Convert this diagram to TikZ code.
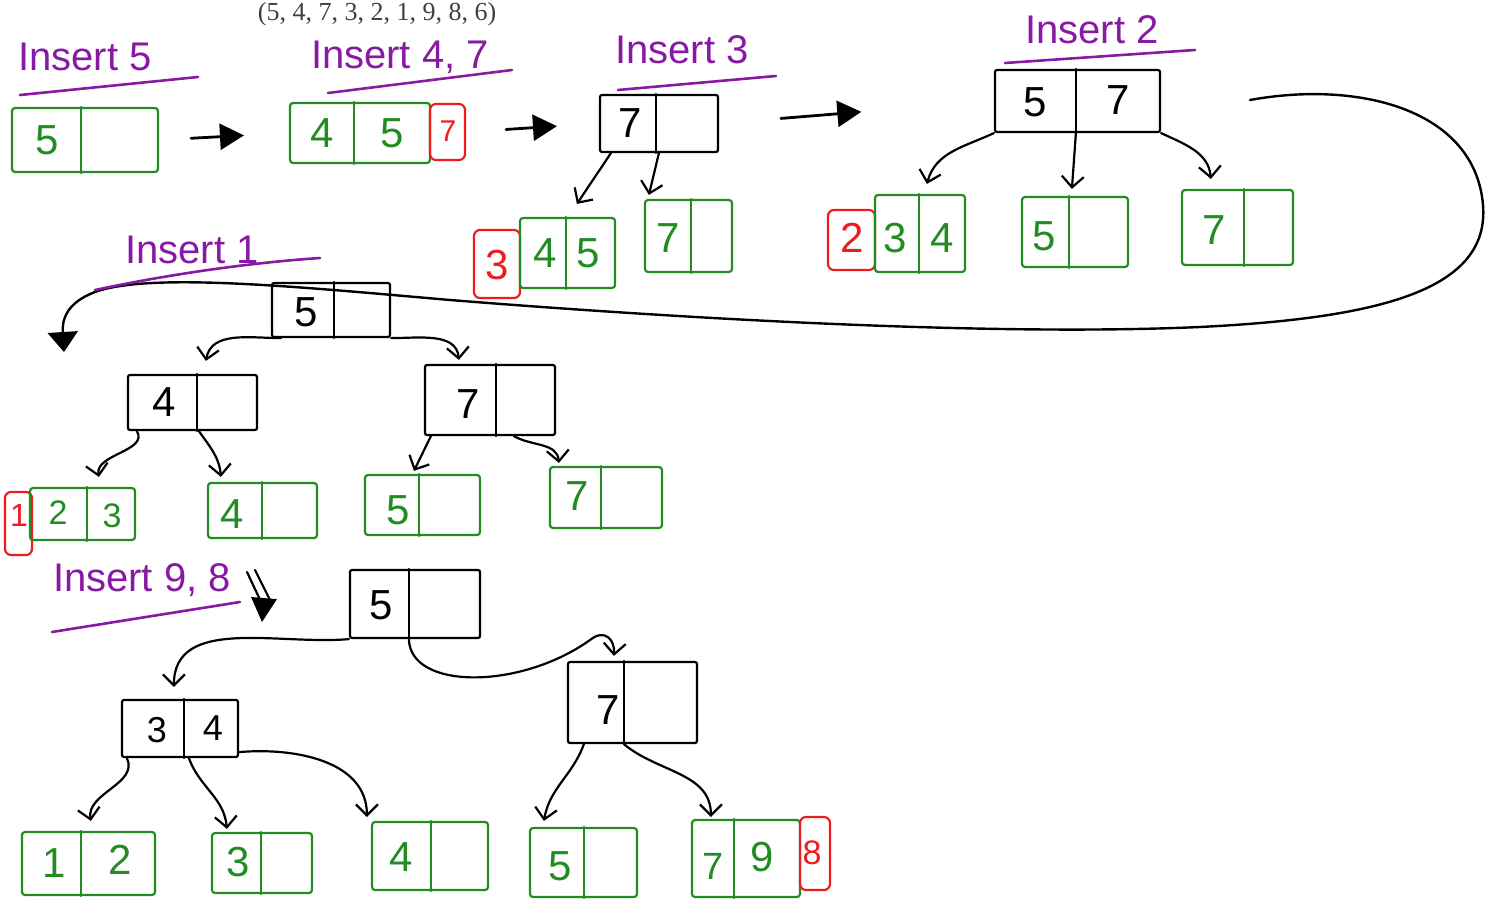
\documentclass[tikz,border=0pt]{standalone}
\usepackage{fontspec}
\setmainfont{Liberation Sans}
\newfontfamily\seqfont{Liberation Serif}
\usetikzlibrary{arrows.meta,fit}

\definecolor{leafgreen}{RGB}{34,140,34}
\definecolor{penpurple}{RGB}{135,25,165}
\definecolor{penred}{RGB}{238,28,28}

\tikzset{
  pen/.style={line width=2.2pt, line cap=round, line join=round},
  innerbox/.style={pen, draw=black, inner sep=0pt, rounded corners=2pt},
  leafbox/.style={pen, draw=leafgreen, inner sep=0pt, rounded corners=3pt},
  spillbox/.style={pen, draw=penred, inner sep=0pt, rounded corners=6pt},
  key/.style={font=\fontsize{42}{42}\selectfont, inner sep=0pt},
  leafkey/.style={key, text=leafgreen},
  spillkey/.style={key, text=penred},
  caption/.style={text=penpurple, font=\fontsize{40}{40}\selectfont, inner sep=0pt},
  underline/.style={draw=penpurple, line width=2.6pt, line cap=round},
  link/.style={pen, -{Straight Barb[length=11pt,width=22pt,line width=2.2pt]}},
  stagearrow/.style={line width=2.8pt, line cap=round, -{Triangle[length=24pt,width=26pt]}},
}

% a box whose corners are given, named #1, drawn in style #2
\newcommand\cellbox[6]{\node[#2, fit={(#3,#4) (#5,#6)}] (#1) {};}
% a vertical divider #2 units right of the box's left edge
\newcommand\divider[3]{\draw[pen,#3] ([xshift=#2pt]#1.north west) -- ([xshift=#2pt]#1.south west);}

\begin{document}
\begin{tikzpicture}[x=1pt, y=-1pt]
\useasboundingbox (0,0) rectangle (1494,899);

% key sequence
\node[anchor=base, text=black!75, font=\seqfont\fontsize{26}{26}\selectfont, inner sep=0pt]
  (seq) at (377,21) {(5, 4, 7, 3, 2, 1, 9, 8, 6)};

% ---------- insert 5 ----------
\node[caption] (cap5) at (85,57) {Insert 5};
\draw[underline] (20,95) -- (198,77);
\cellbox{A}{leafbox}{12}{108}{158}{172}
\divider{A}{70}{leafgreen}
\node[leafkey] (A-k1) at (47,140) {5};

% ---------- insert 4, 7 ----------
\node[caption] (cap47) at (400,57) {Insert 4, 7};
\draw[underline] (328,93) -- (512,70);
\cellbox{B}{leafbox}{290}{103}{430}{163}
\divider{B}{65}{leafgreen}
\cellbox{Bx}{spillbox}{430}{104}{465}{160}
\node[leafkey] (B-k1) at (322,133) {4};
\node[leafkey] (B-k2) at (392,133) {5};
\node[spillkey, font=\fontsize{30}{30}\selectfont] (Bx-k1) at (448,131) {7};

% ---------- insert 3 ----------
\node[caption] (cap3) at (682,50) {Insert 3};
\draw[underline] (618,90) -- (776,76);
\cellbox{C}{innerbox}{600}{95}{718}{152}
\divider{C}{57}{black}
\node[key] (C-k1) at (630,123) {7};

\cellbox{C1x}{spillbox}{474}{230}{520}{298}
\cellbox{C1}{leafbox}{520}{218}{615}{288}
\divider{C1}{47}{leafgreen}
\node[spillkey] (C1x-k1) at (497,265) {3};
\node[leafkey] (C1-k1) at (545,253) {4};
\node[leafkey] (C1-k2) at (588,253) {5};

\cellbox{C2}{leafbox}{645}{200}{732}{272}
\divider{C2}{47}{leafgreen}
\node[leafkey] (C2-k1) at (668,238) {7};

\draw[link] ([xshift=12pt]C.south west) -- ([xshift=58pt,yshift=13pt]C1.north west);
\draw[link] ([xshift=60pt]C.south west) -- ([xshift=5pt,yshift=4pt]C2.north west);

% ---------- insert 2 ----------
\node[caption] (cap2) at (1092,30) {Insert 2};
\draw[underline] (1005,63) -- (1195,50);
\cellbox{D}{innerbox}{995}{70}{1160}{132}
\divider{D}{82}{black}
\node[key] (D-k1) at (1035,102) {5};
\node[key] (D-k2) at (1118,100) {7};

\cellbox{D1x}{spillbox}{828}{210}{875}{270}
\cellbox{D1}{leafbox}{875}{195}{965}{272}
\divider{D1}{45}{leafgreen}
\node[spillkey] (D1x-k1) at (852,238) {2};
\node[leafkey] (D1-k1) at (895,238) {3};
\node[leafkey] (D1-k2) at (942,238) {4};

\cellbox{D2}{leafbox}{1022}{197}{1128}{267}
\divider{D2}{48}{leafgreen}
\node[leafkey] (D2-k1) at (1044,236) {5};

\cellbox{D3}{leafbox}{1182}{190}{1293}{265}
\divider{D3}{63}{leafgreen}
\node[leafkey] (D3-k1) at (1214,230) {7};

\draw[link] (D.south west) to[out=205,in=75] ([xshift=53pt,yshift=10pt]D1.north west);
\draw[link] ([xshift=82pt]D.south west) -- ([xshift=51pt,yshift=7pt]D2.north west);
\draw[link] (D.south east) to[out=-25,in=95] ([xshift=30pt,yshift=10pt]D3.north west);

% stage arrows
\draw[stagearrow, shorten <=32pt, shorten >=45pt] (A.east) -- (B.west);
\draw[stagearrow, shorten <=40pt, shorten >=42pt] (Bx.east) -- (C.west);
\draw[stagearrow, shorten <=62pt, shorten >=133pt] (C.east) -- (D.west);

% loop carrying the tree down to the next row
\coordinate (loopstart) at (1250,100);
\coordinate (loopend) at (64,352);
\draw[line width=2.4pt, line cap=round, -{Triangle[length=20pt,width=30pt]}]
  (loopstart) .. controls (1360,80) and (1475,110) .. (1483,205)
  .. controls (1490,290) and (1380,318) .. (1200,327)
  .. controls (1000,336) and (700,320) .. (450,300)
  .. controls (300,287) and (150,272) .. (95,292)
  .. controls (66,303) and (62,320) .. (loopend);

% ---------- insert 1 ----------
\node[caption] (cap1) at (192,250) {Insert 1};
\draw[underline] (95,290) .. controls (180,272) and (260,262) .. (320,258);
\cellbox{E}{innerbox}{272}{283}{390}{337}
\divider{E}{63}{black}
\node[key] (E-k1) at (306,312) {5};

\cellbox{F}{innerbox}{128}{375}{257}{430}
\divider{F}{70}{black}
\node[key] (F-k1) at (164,402) {4};

\cellbox{G}{innerbox}{425}{365}{555}{435}
\divider{G}{72}{black}
\node[key] (G-k1) at (468,404) {7};

\cellbox{F1x}{spillbox}{5}{492}{32}{555}
\cellbox{F1}{leafbox}{30}{488}{135}{540}
\divider{F1}{58}{leafgreen}
\node[spillkey, font=\fontsize{32}{32}\selectfont] (F1x-k1) at (19,515) {1};
\node[leafkey, font=\fontsize{34}{34}\selectfont] (F1-k1) at (58,513) {2};
\node[leafkey, font=\fontsize{34}{34}\selectfont] (F1-k2) at (112,516) {3};

\cellbox{F2}{leafbox}{208}{483}{317}{538}
\divider{F2}{55}{leafgreen}
\node[leafkey] (F2-k1) at (232,514) {4};

\cellbox{G1}{leafbox}{365}{475}{480}{535}
\divider{G1}{55}{leafgreen}
\node[leafkey] (G1-k1) at (398,510) {5};

\cellbox{G2}{leafbox}{550}{467}{662}{528}
\divider{G2}{52}{leafgreen}
\node[leafkey] (G2-k1) at (577,496) {7};

\draw[link] ([xshift=10pt]E.south west) to[out=180,in=80] ([xshift=79pt,yshift=13pt]F.north west);
\draw[link] (E.south east) to[out=0,in=95] ([xshift=35pt,yshift=4pt]G.north west);
\draw[link] ([xshift=10pt]F.south west) to[out=-60,in=100] ([xshift=70pt,yshift=10pt]F1.north west);
\draw[link] ([xshift=72pt]F.south west) to[out=-55,in=95] ([xshift=14pt,yshift=5pt]F2.north west);
\draw[link] ([xshift=7pt]G.south west) -- ([xshift=50pt,yshift=3pt]G1.north west);
\draw[link] ([xshift=90pt]G.south west) to[out=-30,in=95] ([xshift=10pt,yshift=3pt]G2.north west);

% ---------- insert 9, 8 ----------
\node[caption] (cap98) at (142,580) {Insert 9, 8};
\draw[underline] (52,632) -- (240,602);
\coordinate (hint-a) at (247,572);
\coordinate (hint-b) at (255,570);
\coordinate (hint-tip) at (262,622);
\draw[pen] (hint-a) -- (262,604);
\draw[pen] (hint-b) -- (270,600);
\draw[stagearrow, line width=0pt] (264,598) -- (hint-tip);

\cellbox{H}{innerbox}{350}{570}{480}{638}
\divider{H}{60}{black}
\node[key] (H-k1) at (381,605) {5};

\cellbox{I}{innerbox}{122}{700}{238}{757}
\divider{I}{63}{black}
\node[key, font=\fontsize{36}{36}\selectfont] (I-k1) at (157,730) {3};
\node[key, font=\fontsize{36}{36}\selectfont] (I-k2) at (213,728) {4};

\cellbox{J}{innerbox}{568}{662}{697}{743}
\divider{J}{57}{black}
\node[key] (J-k1) at (608,710) {7};

\cellbox{I1}{leafbox}{22}{832}{155}{895}
\divider{I1}{60}{leafgreen}
\node[leafkey] (I1-k1) at (54,863) {1};
\node[leafkey] (I1-k2) at (120,860) {2};

\cellbox{I2}{leafbox}{212}{833}{312}{893}
\divider{I2}{50}{leafgreen}
\node[leafkey] (I2-k1) at (238,862) {3};

\cellbox{I3}{leafbox}{372}{822}{488}{890}
\divider{I3}{60}{leafgreen}
\node[leafkey] (I3-k1) at (401,857) {4};

\cellbox{J1}{leafbox}{530}{828}{637}{897}
\divider{J1}{55}{leafgreen}
\node[leafkey] (J1-k1) at (560,866) {5};

\cellbox{J2}{leafbox}{692}{820}{800}{897}
\divider{J2}{43}{leafgreen}
\cellbox{J2x}{spillbox}{800}{817}{830}{890}
\node[leafkey, font=\fontsize{38}{38}\selectfont] (J2-k1) at (713,866) {7};
\node[leafkey] (J2-k2) at (762,857) {9};
\node[spillkey, font=\fontsize{34}{34}\selectfont] (J2x-k1) at (812,853) {8};

\draw[link] (H.south west) to[out=185,in=90] ([xshift=53pt,yshift=12pt]I.north west);
\draw[link] ([xshift=60pt]H.south west) .. controls (410,690) and (520,690) .. (590,640)
  .. controls (605,628) and (615,640) .. ([xshift=47pt,yshift=5pt]J.north west);
\draw[link] ([xshift=6pt]I.south west) to[out=-65,in=100] ([xshift=70pt,yshift=10pt]I1.north west);
\draw[link] ([xshift=68pt]I.south west) to[out=-70,in=95] ([xshift=16pt,yshift=3pt]I2.north west);
\draw[link] ([yshift=6pt]I.south east) to[out=5,in=90] ([xshift=-4pt,yshift=4pt]I3.north west);
\draw[link] ([xshift=17pt]J.south west) to[out=-110,in=80] ([xshift=15pt,yshift=6pt]J1.north west);
\draw[link] ([xshift=57pt]J.south west) to[out=-40,in=90] ([xshift=20pt,yshift=2pt]J2.north west);
\end{tikzpicture}
\end{document}
